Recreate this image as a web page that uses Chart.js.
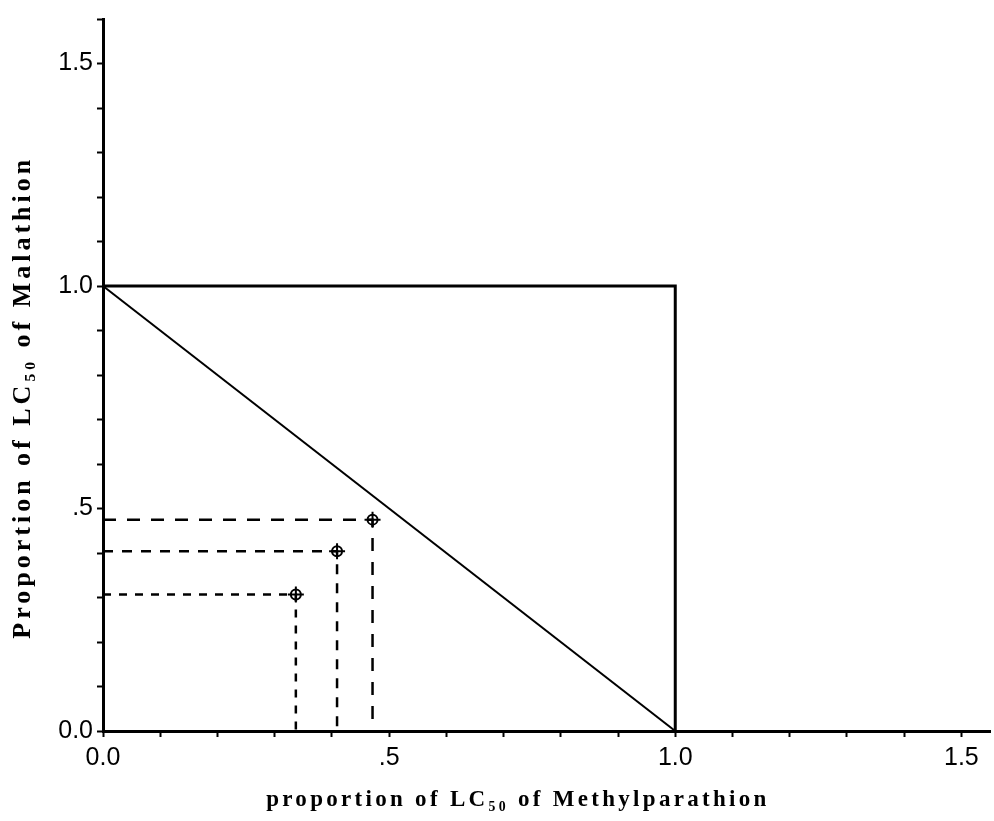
<!DOCTYPE html>
<html>
<head>
<meta charset="utf-8">
<script src="https://cdn.jsdelivr.net/npm/chart.js@4/dist/chart.umd.min.js"></script>
<style>
  html, body { margin: 0; padding: 0; background: #fff; }
  #wrap { width: 994px; height: 821px; }
</style>
</head>
<body>
<div id="wrap"><canvas id="c" width="994" height="821"></canvas></div>
<script>
// Observed mixtures: proportion of LC50 of each insecticide
const methylparathionProp = [0.337, 0.409, 0.471];
const malathionProp = [0.307, 0.404, 0.475];

// Line of additivity (isobole) and unit box
const isoboleX = [0, 1];
const isoboleY = [1, 0];
const boxX = [0, 1, 1];
const boxY = [1, 1, 0];

// Tick labels shown at every 0.5
const tickLabelValues = [0, 0.5, 1.0, 1.5];
const tickLabelTexts = ['0.0', '.5', '1.0', '1.5'];

const xTitle = 'proportion of LC\u2085\u2080 of Methylparathion';
const yTitle = 'Proportion of LC\u2085\u2080 of Malathion';

function toPoints(xs, ys) { return xs.map((x, i) => ({ x: x, y: ys[i] })); }

const dashPatterns = [[8, 8], [10, 9], [13, 11]];

const datasets = [];
// markers first so they are drawn on top
datasets.push({
  data: toPoints(methylparathionProp, malathionProp), showLine: false,
  pointStyle: 'cross', pointRadius: 8, borderColor: '#000', borderWidth: 2
});
datasets.push({
  data: toPoints(methylparathionProp, malathionProp), showLine: false,
  pointStyle: 'circle', pointRadius: 5, borderColor: '#000', borderWidth: 2,
  backgroundColor: 'rgba(255,255,255,0)'
});
methylparathionProp.forEach((mx, i) => {
  const my = malathionProp[i];
  datasets.push({
    data: [{ x: 0, y: my }, { x: mx, y: my }, { x: mx, y: 0 }],
    showLine: true, borderColor: '#000', borderWidth: 2.5,
    borderDash: dashPatterns[i], pointRadius: 0, fill: false
  });
});
datasets.push({
  data: toPoints(isoboleX, isoboleY), showLine: true, borderColor: '#000',
  borderWidth: 2, pointRadius: 0, fill: false
});
datasets.push({
  data: toPoints(boxX, boxY), showLine: true, borderColor: '#000',
  borderWidth: 3, pointRadius: 0, fill: false
});

function tickFmt(value) {
  for (let i = 0; i < tickLabelValues.length; i++) {
    if (Math.abs(value - tickLabelValues[i]) < 1e-6) return tickLabelTexts[i];
  }
  return '';
}

const tickFont = { family: '"Liberation Sans", Arial, sans-serif', size: 25 };

// Axis titles drawn as real text with letter spacing, placed as in the original
const axisTitlePlugin = {
  id: 'axisTitles',
  afterDraw(chart) {
    const ctx = chart.ctx;
    ctx.save();
    ctx.fillStyle = '#000';
    ctx.textAlign = 'center';
    ctx.textBaseline = 'middle';
    ctx.font = 'bold 23px "Liberation Serif", "Times New Roman", serif';
    if ('letterSpacing' in ctx) ctx.letterSpacing = '3.3px';
    const xs = chart.scales.x;
    ctx.fillText(xTitle, xs.getPixelForValue(0.725), 800);
    ctx.font = 'bold 26px "Liberation Serif", "Times New Roman", serif';
    if ('letterSpacing' in ctx) ctx.letterSpacing = '4px';
    ctx.translate(23, chart.scales.y.getPixelForValue(0.75));
    ctx.rotate(-Math.PI / 2);
    ctx.fillText(yTitle, 0, 0);
    ctx.restore();
  }
};

new Chart(document.getElementById('c'), {
  type: 'scatter',
  data: { datasets: datasets },
  plugins: [axisTitlePlugin],
  options: {
    responsive: false,
    animation: false,
    layout: { autoPadding: false, padding: { top: 10, right: 4, left: 0, bottom: 0 } },
    plugins: { legend: { display: false }, tooltip: { enabled: false } },
    scales: {
      x: {
        type: 'linear', min: 0, max: 1.55,
        border: { display: true, color: '#000', width: 3 },
        grid: { display: true, drawOnChartArea: false, drawTicks: true, tickLength: 6, color: '#000', tickWidth: 2 },
        ticks: { stepSize: 0.1, includeBounds: false, autoSkip: false, maxRotation: 0, color: '#000', font: tickFont, padding: 6, callback: tickFmt },
        afterFit: (s) => { s.height = 90; }
      },
      y: {
        type: 'linear', min: 0, max: 1.6,
        border: { display: true, color: '#000', width: 3 },
        grid: { display: true, drawOnChartArea: false, drawTicks: true, tickLength: 6, color: '#000', tickWidth: 2 },
        ticks: { stepSize: 0.1, includeBounds: false, autoSkip: false, color: '#000', font: tickFont, padding: 4, callback: tickFmt },
        afterFit: (s) => { s.width = 103; }
      }
    }
  }
});
</script>
</body>
</html>
